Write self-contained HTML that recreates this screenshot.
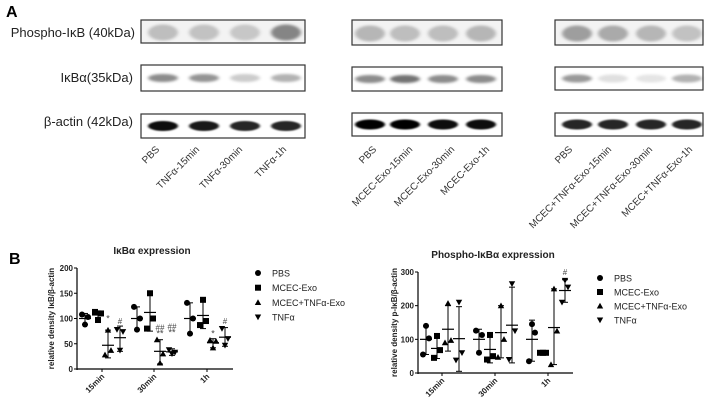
<!DOCTYPE html>
<html><head><meta charset="utf-8"><style>
html,body{margin:0;padding:0;background:#fff;}
svg{display:block;}
text{font-family:"Liberation Sans",sans-serif;}
</style></head><body>
<svg id="s" width="711" height="406" viewBox="0 0 711 406" xmlns="http://www.w3.org/2000/svg">
<defs>
<filter id="b1" x="-50%" y="-100%" width="200%" height="300%"><feGaussianBlur stdDeviation="1.8 1.4"/></filter>
<filter id="b2" x="-50%" y="-100%" width="200%" height="300%"><feGaussianBlur stdDeviation="1.2 0.9"/></filter>
</defs>
<rect width="711" height="406" fill="#fff"/>
<text x="6" y="17" font-size="16" font-weight="bold">A</text>
<text x="135" y="37" font-size="13" text-anchor="end" fill="#222">Phospho-IκB (40kDa)</text>
<text x="133" y="82" font-size="13" text-anchor="end" fill="#222">IκBα(35kDa)</text>
<text x="133" y="126" font-size="13" text-anchor="end" fill="#222">β-actin (42kDa)</text>
<g id="blots"></g>
<text x="9" y="264" font-size="16" font-weight="bold">B</text>
<g id="charts"></g>
</svg>
<script>
const NS="http://www.w3.org/2000/svg";
function el(p,t,a,txt){const e=document.createElementNS(NS,t);for(const k in a)e.setAttribute(k,a[k]);if(txt!==undefined)e.textContent=txt;p.appendChild(e);return e;}
const B=document.getElementById('blots');
const panels=[
 {x1:141,x2:305,rows:[[20,43],[65,91],[114,138]],lanes:[163,204,245,286],
  inten:[[0.22,0.2,0.18,0.45],[0.45,0.42,0.2,0.3],[0.95,0.9,0.85,0.85]],
  labels:["PBS","TNFα-15min","TNFα-30min","TNFα-1h"],ends:[160,200,243,287]},
 {x1:352,x2:502,rows:[[20,45],[67,91],[113,136]],lanes:[370,405,443,481],
  inten:[[0.25,0.22,0.22,0.25],[0.45,0.55,0.45,0.45],[1,1,0.95,0.95]],
  labels:["PBS","MCEC-Exo-15min","MCEC-Exo-30min","MCEC-Exo-1h"],ends:[377,413,455,490]},
 {x1:555,x2:703,rows:[[20,45],[67,90],[113,136]],lanes:[577,613,651,687],
  inten:[[0.35,0.3,0.25,0.2],[0.4,0.12,0.1,0.3],[0.85,0.85,0.85,0.85]],
  labels:["PBS","MCEC+TNFα-Exo-15min","MCEC+TNFα-Exo-30min","MCEC+TNFα-Exo-1h"],ends:[573,612,653,693]}
];
panels.forEach(p=>{
 p.rows.forEach((r,ri)=>{
  const cy=(r[0]+r[1])/2+(ri==0?1:0);
  if(ri==0) el(B,'rect',{x:p.x1,y:r[0],width:p.x2-p.x1,height:r[1]-r[0],fill:'#f3f3f3'});
  p.lanes.forEach((lx,li)=>{
   const a=p.inten[ri][li];
   const h=ri==0?8:(ri==1?4:5);
   el(B,'ellipse',{cx:lx,cy:cy,rx:15,ry:h,fill:'#000','fill-opacity':a,filter:ri==2?'url(#b2)':'url(#b1)'});
  });
  el(B,'rect',{x:p.x1,y:r[0],width:p.x2-p.x1,height:r[1]-r[0],fill:'none',stroke:'#333','stroke-width':1.2});
 });
 p.labels.forEach((l,i)=>{
  el(B,'text',{x:0,y:0,'font-size':10,'text-anchor':'end',fill:'#333',transform:`translate(${p.ends[i]},150) rotate(-45)`},l);
 });
});
const C=document.getElementById('charts');
function marker(g,type,x,y){
 const s=3.2;
 if(type==0) el(g,'circle',{cx:x,cy:y,r:3,fill:'#000'});
 else if(type==1) el(g,'rect',{x:x-3,y:y-3,width:6,height:6,fill:'#000'});
 else if(type==2) el(g,'polygon',{points:`${x},${y-s} ${x-s},${y+s*0.8} ${x+s},${y+s*0.8}`,fill:'#000'});
 else el(g,'polygon',{points:`${x},${y+s} ${x-s},${y-s*0.8} ${x+s},${y-s*0.8}`,fill:'#000'});
}
function chart(o){
 const g=el(C,'g',{});
 const Y=v=>o.y0-v*(o.y0-o.ytop)/o.ymax;
 el(g,'text',{x:o.tx,y:o.ty,'font-size':10,'font-weight':'bold','text-anchor':'middle',fill:'#222'},o.title);
 el(g,'line',{x1:o.ax,y1:o.ytop,x2:o.ax,y2:o.y0+1,stroke:'#000','stroke-width':1.2});
 el(g,'line',{x1:o.ax,y1:o.y0,x2:o.axEnd,y2:o.y0,stroke:'#000','stroke-width':1.2});
 o.yt.forEach(v=>{el(g,'line',{x1:o.ax-3,y1:Y(v),x2:o.ax,y2:Y(v),stroke:'#000'});
  el(g,'text',{x:o.ax-4,y:Y(v)+3,'font-size':8,'font-weight':'bold','text-anchor':'end',fill:'#222'},v);});
 el(g,'text',{x:0,y:0,'font-size':8,'font-weight':'bold','text-anchor':'middle',fill:'#222',transform:`translate(${o.ylx},${(o.ytop+o.y0)/2}) rotate(-90)`},o.ylab);
 o.ticks.forEach((t,i)=>{el(g,'line',{x1:t,y1:o.y0,x2:t,y2:o.y0+3,stroke:'#000'});
  el(g,'text',{x:0,y:0,'font-size':8,'font-weight':'bold','text-anchor':'end',fill:'#222',transform:`translate(${t+3},${o.y0+8}) rotate(-45)`},o.xl[i]);});
 o.data.forEach((grp,gi)=>{grp.forEach((d,si)=>{
  const x=o.ticks[gi]+o.off[si];
  el(g,'line',{x1:x,y1:Y(d.lo),x2:x,y2:Y(d.hi),stroke:'#000','stroke-width':1});
  el(g,'line',{x1:x-3,y1:Y(d.lo),x2:x+3,y2:Y(d.lo),stroke:'#000'});
  el(g,'line',{x1:x-3,y1:Y(d.hi),x2:x+3,y2:Y(d.hi),stroke:'#000'});
  el(g,'line',{x1:x-6,y1:Y(d.m),x2:x+6,y2:Y(d.m),stroke:'#000','stroke-width':1.2});
  d.p.forEach((v,k)=>marker(g,si,x+(k-1)*3,Y(v)));
  (d.a||[]).forEach(a=>el(g,'text',{x:x,y:Y(a[1])+3,'font-size':a[0][0]=='*'?9:8,'text-anchor':'middle',fill:'#444'},a[0]));
 });});
 const names=["PBS","MCEC-Exo","MCEC+TNFα-Exo","TNFα"];
 names.forEach((n,i)=>{marker(g,i,o.lx,o.ly+i*o.ldy);
  el(g,'text',{x:o.lx+14,y:o.ly+i*o.ldy+3.5,'font-size':9,fill:'#222'},n);});
}
const D=(m,lo,hi,p,a)=>({m,lo,hi,p,a});
chart({title:"IκBα expression",tx:152,ty:254,ax:77,axEnd:233,y0:369,ytop:268,ymax:200,yt:[0,50,100,150,200],
 ylx:54,ylab:"relative density IκB/β-actin",ticks:[102,154,207],xl:["15min","30min","1h"],off:[-17,-4,6,18],
 lx:258,ly:273,ldy:14.7,
 data:[[D(100,88,110,[108,88,103]),D(107,97,115,[113,97,110]),D(47,22,77,[28,77,37],[["*",100]]),D(62,35,85,[78,37,74],[["#",95]])],
 [D(100,78,123,[123,78,100]),D(112,75,150,[80,150,100]),D(35,10,58,[58,12,30],[["**",70],["##",82]]),D(34,27,40,[38,30,33],[["**",72],["##",84]])],
 [D(100,70,131,[131,70,100]),D(106,80,135,[87,137,95]),D(52,42,60,[57,42,55],[["*",70]]),D(63,45,82,[80,47,60],[["#",95]])]]});
chart({title:"Phospho-IκBα expression",tx:493,ty:258,ax:418,axEnd:573,y0:373,ytop:272,ymax:300,yt:[0,100,200,300],
 ylx:397,ylab:"relative density p-IκB/β-actin",ticks:[442,495,548],xl:["15min","30min","1h"],off:[-16,-5,6,17],
 lx:600,ly:278,ldy:14,
 data:[[D(100,55,140,[55,140,103]),D(73,43,110,[45,110,68]),D(130,65,200,[90,207,97]),D(102,5,197,[38,210,60])],
 [D(100,60,130,[126,60,113]),D(70,30,115,[40,113,50]),D(120,45,200,[47,200,100]),D(142,30,255,[40,265,125])],
 [D(100,35,157,[35,145,120]),D(60,57,63,[60,60,60]),D(135,25,250,[25,250,125]),D(245,210,277,[210,275,255],[["#",300]])]]});
</script>
</body></html>
